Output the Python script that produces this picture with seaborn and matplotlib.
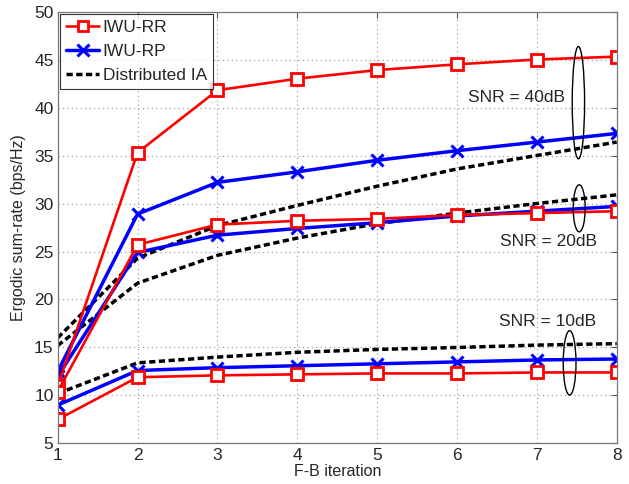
import matplotlib
matplotlib.use("Agg")
import matplotlib.pyplot as plt
from matplotlib.patches import Ellipse
from matplotlib.lines import Line2D
import numpy as np
import pandas as pd
import seaborn as sns

# F-B iterations
iterations = [1, 2, 3, 4, 5, 6, 7, 8]

# Ergodic sum-rate (bps/Hz), SNR = 40 dB
rr_40 = [11.0, 35.3, 41.8, 43.0, 43.9, 44.5, 45.0, 45.3]
rp_40 = [12.5, 28.9, 32.2, 33.3, 34.5, 35.5, 36.4, 37.3]
ia_40 = [16.0, 24.3, 27.7, 29.8, 31.8, 33.6, 35.0, 36.4]

# SNR = 20 dB
rr_20 = [10.4, 25.7, 27.8, 28.2, 28.4, 28.8, 29.0, 29.2]
rp_20 = [12.0, 24.9, 26.7, 27.4, 28.0, 28.7, 29.2, 29.7]
ia_20 = [15.2, 21.7, 24.6, 26.4, 27.9, 29.0, 30.0, 30.9]

# SNR = 10 dB
rr_10 = [7.5, 11.9, 12.1, 12.2, 12.3, 12.3, 12.4, 12.4]
rp_10 = [9.0, 12.6, 12.9, 13.1, 13.3, 13.5, 13.7, 13.8]
ia_10 = [10.2, 13.4, 14.0, 14.5, 14.8, 15.0, 15.25, 15.4]

legend_labels = ["IWU-RR", "IWU-RP", "Distributed IA"]
snr_labels = ["SNR = 40dB", "SNR = 20dB", "SNR = 10dB"]

sns.set_style("white")
plt.rcParams["font.family"] = ["Liberation Sans", "DejaVu Sans"]

fig = plt.figure(figsize=(6.29, 4.84), dpi=100)
ax = fig.add_axes([0.0917, 0.0837, 0.8888, 0.8925])

red_style = dict(color="#ff0000", linewidth=1.9, marker="s", markersize=8.5,
                 markerfacecolor="white", markeredgecolor="#ff0000",
                 markeredgewidth=2.0)
blue_style = dict(color="#0000ff", linewidth=2.5, marker="x", markersize=9,
                  markeredgecolor="#0000ff", markeredgewidth=2.2)
ia_style = dict(color="black", linewidth=2.5, dashes=(1.8, 1.0))

series = [
    (ia_40, ia_style), (ia_20, ia_style), (ia_10, ia_style),
    (rp_40, blue_style), (rp_20, blue_style), (rp_10, blue_style),
    (rr_40, red_style), (rr_20, red_style), (rr_10, red_style),
]
for values, style in series:
    df = pd.DataFrame({"iter": iterations, "rate": values})
    sns.lineplot(data=df, x="iter", y="rate", ax=ax, legend=False, **style)

ax.set_xlim(1, 8)
ax.set_ylim(5, 50)
ax.set_xticks(iterations)
ax.set_yticks(np.arange(5, 51, 5))
ax.tick_params(axis="both", which="both", direction="in", top=True, right=True,
               length=4, width=0.8, color="#555555", labelsize=12.5, pad=3)
ax.grid(True, linestyle=(0, (1, 3)), color="#909090", linewidth=0.8)
for sp in ax.spines.values():
    sp.set_color("#777777")
    sp.set_linewidth(0.9)

ax.set_xlabel("F-B iteration", fontsize=11.5, labelpad=1)
ax.set_ylabel("Ergodic sum-rate (bps/Hz)", fontsize=11.5, labelpad=6)

# Ellipses grouping curves of the same SNR
for (cx, cy, w, h) in [(7.52, 40.5, 0.155, 11.7), (7.53, 29.5, 0.15, 4.9),
                       (7.41, 13.4, 0.16, 6.7)]:
    ax.add_patch(Ellipse((cx, cy), w, h, fill=False, edgecolor="black",
                         linewidth=1.0, zorder=5))

ax.text(6.75, 41.0, snr_labels[0], fontsize=12.5, ha="center", va="center")
ax.text(7.15, 26.0, snr_labels[1], fontsize=12.5, ha="center", va="center")
ax.text(7.14, 17.7, snr_labels[2], fontsize=12.5, ha="center", va="center")

handles = [
    Line2D([], [], **red_style),
    Line2D([], [], **blue_style),
    Line2D([], [], **ia_style),
]
leg = ax.legend(handles, legend_labels, loc="upper left", fontsize=12.5,
                frameon=True, fancybox=False, borderaxespad=0.15,
                handlelength=1.9, handletextpad=0.2, borderpad=0.35,
                labelspacing=0.5, markerscale=0.9)
leg.get_frame().set_edgecolor("black")
leg.get_frame().set_linewidth(0.8)

fig.savefig("out.png", dpi=100)
